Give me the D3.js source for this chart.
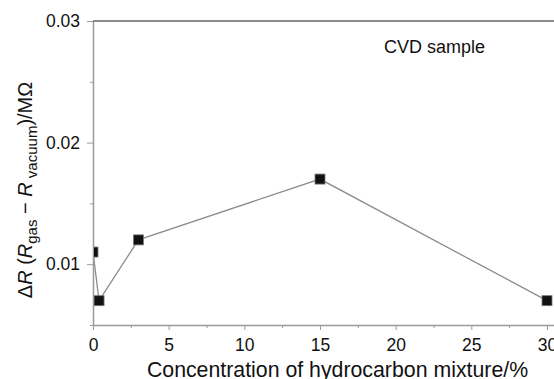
<!DOCTYPE html>
<html>
<head>
<meta charset="utf-8">
<script src="https://cdn.jsdelivr.net/npm/d3@7"></script>
<style>
  body { margin: 0; background: #fff; }
  svg { display: block; font-family: "Liberation Sans", Arial, Helvetica, sans-serif; }
</style>
</head>
<body>
<div id="chart"></div>
<script>
// data
const concentration = [0, 0.4, 3, 15, 30];
const deltaR = [0.011, 0.007, 0.012, 0.017, 0.007];
const xTicks = [0, 5, 10, 15, 20, 25, 30];
const xMinorTicks = [2.5, 7.5, 12.5, 17.5, 22.5, 27.5];
const yTicks = [0.01, 0.02, 0.03];
const yMinorTicks = [0.005, 0.015, 0.025];
const points = concentration.map((c, i) => ({ x: c, y: deltaR[i] }));

const width = 554, height = 379;
const plotLeft = 93, plotRight = 547, plotTop = 21, plotBottom = 325;

const svg = d3.select('#chart').append('svg')
    .attr('width', width)
    .attr('height', height);

const x = d3.scaleLinear().domain([0, 30]).range([plotLeft, plotRight]);
const y = d3.scaleLinear().domain([0.005, 0.03]).range([plotBottom, plotTop]);

const axisColor = '#9a9a9a';

// minor ticks first
svg.append('g')
    .attr('transform', `translate(0,${plotBottom})`)
    .call(d3.axisBottom(x).tickValues(xMinorTicks).tickSize(3).tickFormat('').tickSizeOuter(0))
    .call(g => g.select('.domain').remove())
    .call(g => g.selectAll('line').attr('stroke', axisColor));

svg.append('g')
    .attr('transform', `translate(${plotLeft},0)`)
    .call(d3.axisLeft(y).tickValues(yMinorTicks).tickSize(3).tickFormat('').tickSizeOuter(0))
    .call(g => g.select('.domain').remove())
    .call(g => g.selectAll('line').attr('stroke', axisColor));

// x axis
const xAxis = svg.append('g')
    .attr('transform', `translate(0,${plotBottom})`)
    .call(d3.axisBottom(x).tickValues(xTicks).tickSize(5).tickPadding(9).tickSizeOuter(0));
xAxis.select('.domain').attr('stroke', axisColor).attr('stroke-width', 1.5)
    .attr('d', `M${plotLeft},0.5H${width}`);
xAxis.selectAll('line').attr('stroke', axisColor);
xAxis.selectAll('text').attr('font-size', 17.5).attr('fill', '#111')
    .attr('font-family', '"Liberation Sans", Arial, sans-serif');

// y axis
const yAxis = svg.append('g')
    .attr('transform', `translate(${plotLeft},0)`)
    .call(d3.axisLeft(y).tickValues(yTicks).tickSize(6).tickPadding(7)
        .tickFormat(d3.format('.2f')).tickSizeOuter(0));
yAxis.select('.domain').attr('stroke', axisColor).attr('stroke-width', 1.5);
yAxis.selectAll('line').attr('stroke', axisColor);
yAxis.selectAll('text').attr('font-size', 17.5).attr('fill', '#111')
    .attr('font-family', '"Liberation Sans", Arial, sans-serif');

// top frame line
svg.append('line')
    .attr('x1', plotLeft).attr('x2', width)
    .attr('y1', y(0.03)).attr('y2', y(0.03))
    .attr('stroke', '#666').attr('stroke-width', 1.5);

// clip marks to the plot area
svg.append('clipPath').attr('id', 'plot-clip')
    .append('rect')
    .attr('x', plotLeft + 1).attr('y', 0)
    .attr('width', width - plotLeft).attr('height', plotBottom);

const plot = svg.append('g').attr('clip-path', 'url(#plot-clip)');

const line = d3.line().x(d => x(d.x)).y(d => y(d.y));
plot.append('path')
    .datum(points)
    .attr('d', line)
    .attr('fill', 'none')
    .attr('stroke', '#8c8c8c')
    .attr('stroke-width', 1.3);

const size = 10;
plot.selectAll('rect.marker')
    .data(points)
    .enter()
    .append('rect')
    .attr('class', 'marker')
    .attr('x', d => x(d.x) - size / 2)
    .attr('y', d => y(d.y) - size / 2)
    .attr('width', size)
    .attr('height', size)
    .attr('fill', '#111')
    .attr('stroke', '#777')
    .attr('stroke-width', 0.8);

// legend text
svg.append('text')
    .attr('x', 384)
    .attr('y', 53)
    .attr('font-size', 18)
    .attr('fill', '#111')
    .text('CVD sample');

// x axis title
svg.append('text')
    .attr('x', (147 + 528) / 2)
    .attr('y', 377)
    .attr('text-anchor', 'middle')
    .attr('font-size', 21.3)
    .attr('fill', '#111')
    .text('Concentration of hydrocarbon mixture/%');

// y axis title
const yTitle = svg.append('text')
    .attr('transform', 'translate(32,190) rotate(-90)')
    .attr('text-anchor', 'middle')
    .attr('font-size', 20)
    .attr('fill', '#111');
yTitle.append('tspan').text('\u0394');
yTitle.append('tspan').attr('font-style', 'italic').text('R');
yTitle.append('tspan').text(' (');
yTitle.append('tspan').attr('font-style', 'italic').text('R');
yTitle.append('tspan').attr('font-size', 15).attr('dy', 5).text('gas');
yTitle.append('tspan').attr('dy', -5).text(' \u2212 ');
yTitle.append('tspan').attr('font-style', 'italic').text('R');
yTitle.append('tspan').attr('font-size', 15).attr('dy', 5).text(' vacuum');
yTitle.append('tspan').attr('dy', -5).text(')/M\u03A9');
</script>
</body>
</html>
